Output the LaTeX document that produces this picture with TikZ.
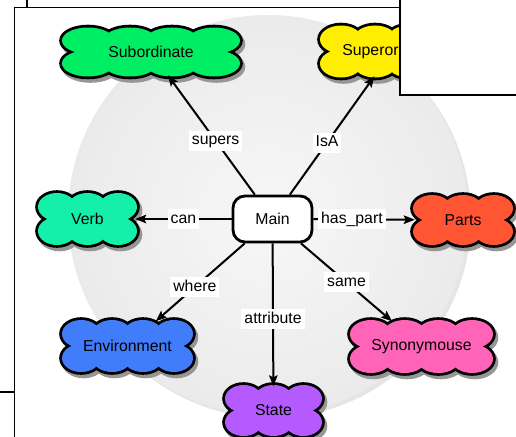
\documentclass[tikz,border=0pt]{standalone}
\usepackage{fontspec}
\setmainfont{Liberation Sans}
\usetikzlibrary{arrows.meta}
\definecolor{cSub}{RGB}{0,238,100}
\definecolor{cSup}{RGB}{255,238,0}
\definecolor{cVerb}{RGB}{20,240,170}
\definecolor{cParts}{RGB}{255,85,50}
\definecolor{cEnv}{RGB}{65,125,250}
\definecolor{cSyn}{RGB}{255,100,185}
\definecolor{cState}{RGB}{180,90,255}
\definecolor{shadowgray}{RGB}{150,150,150}
\definecolor{discIn}{RGB}{247,247,247}
\definecolor{discMid}{RGB}{236,236,236}
\definecolor{discOut}{RGB}{220,220,220}
\pgfdeclareradialshading{discshade}{\pgfpoint{0bp}{0bp}}{color(0bp)=(discIn); color(22bp)=(discMid); color(50bp)=(discOut)}
% lobes of a cloud, centred at the origin of the current scope
\newcommand\cloudlobes[1]{%
  \path[#1] (\cXo,-\cYC) ellipse[x radius=\cRx, y radius=\cRyC]
            (\cXr,-\cYC) ellipse[x radius=\cRx, y radius=\cRyC]
            (\cXo,\cYC) ellipse[x radius=\cRx, y radius=\cRyC]
            (\cXr,\cYC) ellipse[x radius=\cRx, y radius=\cRyC];
  \foreach \k in {1,...,\cMidLast}{%
    \pgfmathsetmacro\xx{\cXo+\k*\cS}%
    \path[#1] (\xx,-\cYM) ellipse[x radius=\cRx, y radius=\cRyM]
              (\xx,\cYM) ellipse[x radius=\cRx, y radius=\cRyM];
  }%
}
% #1 name, #2 cx, #3 cy, #4 half width, #5 half height, #6 lobes on top, #7 colour, #8 text
\newcommand\cloudnode[8]{%
  \pgfmathsetmacro\cS{2*#4/(#6+0.24)}%
  \pgfmathsetmacro\cRx{0.62*\cS}%
  \pgfmathsetmacro\cXo{-#4+\cRx}%
  \pgfmathsetmacro\cXr{#4-\cRx}%
  \pgfmathtruncatemacro\cMidLast{#6-2}%
  \pgfmathsetmacro\cRyC{0.535*#5}%
  \pgfmathsetmacro\cYC{0.465*#5}%
  \pgfmathsetmacro\cRyM{0.5*#5}%
  \pgfmathsetmacro\cYM{0.5*#5}%
  \begin{scope}[shift={(#2,#3)}]
    \begin{scope}[shift={(2.5,3.5)}]
      \cloudlobes{draw=shadowgray, fill=shadowgray, line width=5.6pt}
      \fill[shadowgray] (\cXo,-\cYC) rectangle (\cXr,\cYC);
    \end{scope}
    \cloudlobes{draw=black, line width=5.6pt}
    \cloudlobes{fill=#7}
    \fill[#7] (\cXo,-\cYC) rectangle (\cXr,\cYC);
  \end{scope}
  \node[txt, inner sep=0pt, minimum width={2*#4-4}, minimum height={2*#5-3}] (#1) at (#2,#3) {#8};
}
\begin{document}
\begin{tikzpicture}[x=1pt,y=-1pt,
  txt/.style={font=\fontsize{15.8}{18}\selectfont},
  mainnode/.style={draw=black, line width=2.8pt, rounded corners=12pt, fill=white,
    minimum width=79pt, minimum height=46pt, txt},
  rel/.style={line width=2pt, -{Stealth[length=11pt,width=8.5pt,inset=2pt]}},
  lbl/.style={fill=white, inner sep=3pt, txt, text height=11pt, text depth=3pt},
  frameline/.style={line width=1.4pt, black}
]
\useasboundingbox (0,0) rectangle (516,436);
% frame lines
\draw[frameline] (27,0) -- (27,7);
\draw[frameline] (14.5,440) -- (14.5,7.5) -- (520,7.5);
\draw[frameline] (0,392) -- (14.5,392);
% disc
\fill[black, opacity=0.10] (271,218) circle[radius=200];
\shade[shading=discshade] (268,215) circle[radius=200];
% nodes
\node[mainnode] (main) at (272.5,219) {Main};
\cloudnode{sub}{151}{52}{89}{24.5}{4}{cSub}{Subordinate}
\cloudnode{sup}{392}{51.5}{72}{26}{4}{cSup}{Superordinate}
\cloudnode{verb}{87.5}{219}{49.5}{26}{3}{cVerb}{Verb}
\cloudnode{parts}{463}{220}{50}{25}{3}{cParts}{Parts}
\cloudnode{env}{127.5}{346}{65.5}{26}{4}{cEnv}{Environment}
\cloudnode{syn}{421.5}{346.5}{71.5}{26.5}{4}{cSyn}{Synonymouse}
\cloudnode{state}{273.5}{410.5}{48.5}{25.5}{3}{cState}{State}
% connectors
\draw[rel] (main) -- node[lbl, pos=0.45] (l1) {supers} (sub);
\draw[rel] (main) -- node[lbl, pos=0.44] (l2) {IsA} (sup);
\draw[rel] (main) -- node[lbl, pos=0.5] (l3) {can} (verb);
\draw[rel] (main) -- node[lbl, pos=0.38] (l4) {has\_part} (parts);
\draw[rel] (main) -- node[lbl, pos=0.56] (l5) {where} (env);
\draw[rel] (main) -- node[lbl, pos=0.53] (l6) {attribute} (state);
\draw[rel] (main) -- node[lbl, pos=0.5] (l7) {same} (syn);
% overlapping window
\draw[frameline, fill=white] (400,-5) rectangle (525,95);
\end{tikzpicture}
\end{document}
